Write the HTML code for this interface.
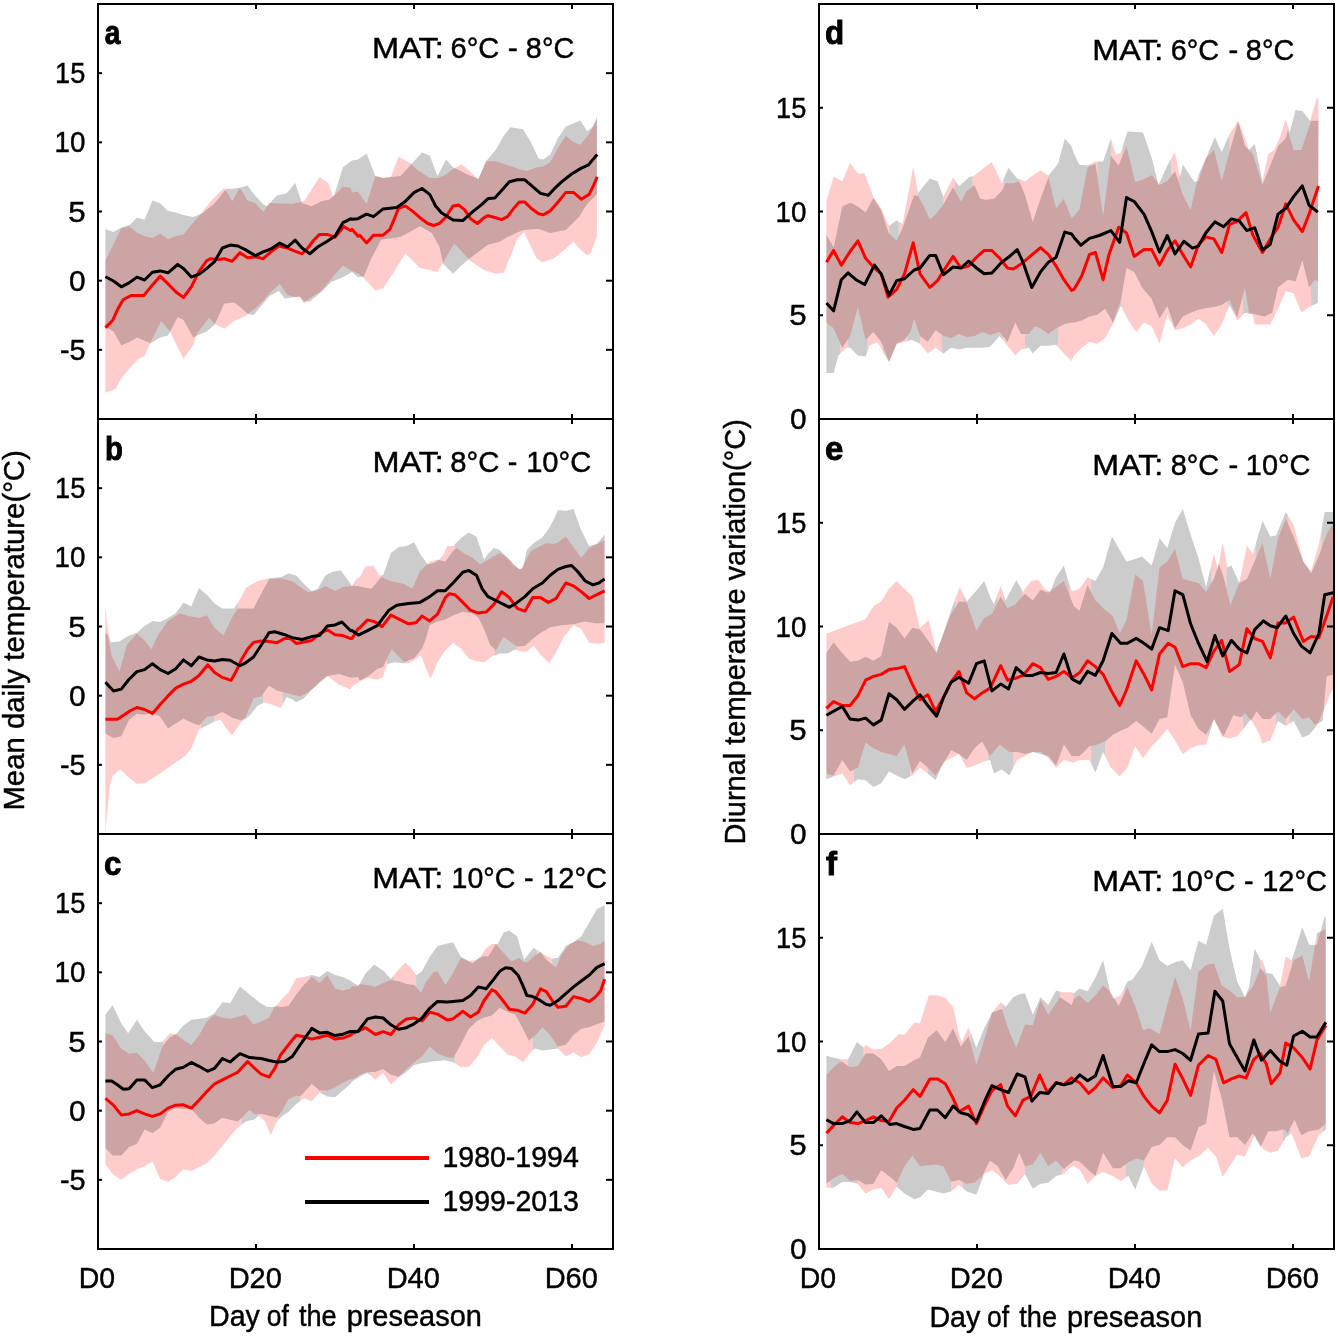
<!DOCTYPE html>
<html><head><meta charset="utf-8"><style>
html,body{margin:0;padding:0;background:#fff;}
body{width:1338px;height:1336px;overflow:hidden;position:relative;font-family:"Liberation Sans",sans-serif;}
svg{position:absolute;left:0;top:0;will-change:transform;}
</style></head><body>
<svg width="1338" height="1336" viewBox="0 0 1338 1336" font-family="Liberation Sans, sans-serif">
<defs>
<clipPath id="ca"><rect x="98" y="4" width="515" height="415"/></clipPath>
<clipPath id="cb"><rect x="98" y="419" width="515" height="415"/></clipPath>
<clipPath id="cc"><rect x="98" y="834" width="515" height="415"/></clipPath>
<clipPath id="cd"><rect x="819" y="4" width="515" height="415"/></clipPath>
<clipPath id="ce"><rect x="819" y="419" width="515" height="415"/></clipPath>
<clipPath id="cf"><rect x="819" y="834" width="515" height="415"/></clipPath>
</defs>
<g clip-path="url(#ca)">
<polygon points="105.4,260.6 113.5,244.1 121.3,228.5 129.1,226.6 136.9,232.4 144.6,236.3 152.4,237.9 160.2,233.4 168,239.2 175.7,236.3 183.5,234.4 191.3,224.7 199,215.9 210.7,201.3 224.3,187.7 232.1,201.3 239.9,187.7 247.6,200.4 255.4,203.3 263.2,212 269,203.3 292.3,203.7 304,201.3 319.5,177 328.3,182.9 333.1,196.5 342.9,186.8 350.6,187.7 352,192.4 358,191.6 366.6,204.1 375.3,175.9 383.1,177.9 390.9,176.9 398.6,156.5 410.3,163.3 416.1,169.1 429.7,177.9 437.5,177.9 445.3,174.9 453,169.1 461.8,164.2 468.6,170.1 478.3,179.8 486.1,161.3 495.8,161.3 507.5,165.2 519.1,169.1 526.9,171 534.7,168.1 543.4,166.2 550.2,162.3 558,147.7 565.8,136.1 573.5,141.9 580.3,144.8 589.1,134.1 596.9,119.6 596.9,236 591,252.5 587.1,255.4 579.4,248.6 573.5,241.8 565.8,248.6 554.1,258.3 542.4,262.2 536.6,258.3 530.8,246.6 524,232.1 517.2,238.9 511.3,254.4 503.6,272.9 495.8,273.8 484.1,270 470.5,261.2 462.8,252.5 454,243.7 443.3,262.2 437.5,271.9 420,268 405.4,253.4 392.8,273.8 383.1,288.4 375.3,290.4 363.7,277.7 358,273.3 352,270.9 342.9,265.5 331.2,279.1 321.5,290.8 307.9,299.6 304,303.4 300.1,297.6 292.3,296.6 287.5,294.7 279.7,284 269,293.7 263.2,300.5 255.4,308.3 247.6,314.1 245.7,316.1 234,320.9 224.3,328.7 214.6,323.8 208.8,318 197.1,333.6 193.2,345.2 183.5,358.8 175.7,343.3 169.9,331.6 161.2,320.9 150.5,342.3 144.6,355.9 138.8,358.8 131,366.6 121.3,378.3 115.5,388.9 105.4,392.8" fill="#ff0000" fill-opacity="0.2"/>
<polygon points="105.4,228.9 113.5,232 121.3,227.6 130.1,224.7 136.9,217.5 144.6,219.8 152.4,200.4 160.2,203.3 168,211 175.7,212.6 183.5,214.9 193.2,216.9 202.9,213 214.6,203.3 226.3,188.7 232.1,188.7 239.9,187.7 247.6,185.4 253.5,193.6 263.2,204.2 267.1,206.2 276.8,195.5 286.5,193.6 295.2,182.9 302,203.3 311.8,206.2 321.5,201.3 329.2,199.4 334.1,195.5 342.9,167.3 350.6,161.5 352,160.4 358,159.6 366.6,153.6 375.3,175.9 383.1,177.9 390.9,176.9 400.6,175.9 410.3,165.2 422,152.6 429.7,155.5 437.5,175.9 446.2,159.4 453,167.2 460.8,171 468.6,174.9 478.3,178.8 486.1,161.3 495.8,149.7 503.6,136.1 510.4,127.3 523,129.3 530.8,141.9 538.6,158.4 543.4,159.4 550.2,154.5 558,138 565.8,126.4 580.3,120.5 587.1,131.2 593,126.4 596.9,116.6 596.9,194.2 587.1,203.9 579.4,216.5 565.8,230.1 550.2,233 538.6,229.1 523,230.1 507.5,236.9 499.7,241.8 488,244.7 468.6,259.3 460.8,266.1 453,273.8 443.3,264.1 439.4,246.6 431.7,233 420,226.2 400.6,236.9 381.1,239.8 371.4,258.3 363.7,276.8 358,277.2 352,271.9 342.9,277.2 331.2,282.1 321.5,291.8 309.8,301.5 304,301.5 300.1,296.6 292.3,297.6 284.6,298.6 278.7,290.8 269,296.6 259.3,308.3 253.5,315.1 247.6,314.1 241.8,308.3 234,302.5 224.3,303.4 214.6,324.8 206.8,331.6 197.1,335.5 193.2,337.4 183.5,320 177.7,317 168,335.5 160.2,337.4 150.5,343.3 144.6,340.4 136.9,337.4 129.1,342.3 121.3,345.2 113.5,331.6 105.4,326.8" fill="#000000" fill-opacity="0.2"/>
<polyline points="105.4,327.6 112.6,320.5 117.4,309.8 123.3,299.5 131,295.6 143.7,295.6 152.4,284.9 160.2,276.1 168,283.9 175.7,291.7 183.5,297.5 191.3,286.8 199,271.3 206.8,260.6 210.7,258.7 218.5,259.6 224.3,258.7 232.1,261.2 239.9,252.8 247.6,257.7 255.4,256.7 263.2,258.7 270.9,251.9 278.7,246 287.5,248 294.3,250.9 302,253.8 307.9,248 313.7,240.2 319.5,234.4 327.3,234.4 335.1,237.3 343.8,226.6 350.6,230.5 352,229.3 358,236.3 359.8,235.2 366.6,242.9 373.4,235.2 383.1,235.2 389.9,229.3 394.8,217.7 398.6,208 405.4,206 412.2,210.9 420,217.7 427.8,223.5 433.6,225.5 439.4,223.5 445.3,217.7 453,206 458.9,205.1 464.7,209.9 470.5,218.7 477.3,223.5 484.1,217.7 488,215.7 495.8,217.7 501.6,219.6 507.5,216.7 513.3,208.9 519.1,202.1 524.9,202.1 530.8,208 538.6,213.8 543.4,214.8 550.2,210.9 558,202.1 565.8,192.4 573.5,192.4 581.3,199.2 589.1,194.4 593.9,184.7 597.2,176.9" fill="none" stroke="#ff0000" stroke-width="3" stroke-linejoin="round"/>
<polyline points="105.4,276.7 113.5,281 121.3,286.8 129.1,282.9 136.9,277.1 144.6,280 152.4,272.3 160.2,270.9 168,272.8 177.7,264.5 183.5,268.4 191.3,277.1 199,274.2 206.8,268.4 214.6,261.6 222.4,248 230.1,245.1 237.9,246 245.7,249.9 255.4,255.7 263.2,251.9 270.9,248.9 279.7,243.1 287.5,247 295.2,240.2 302,248 309.8,253.8 317.6,247 327.3,241.2 335.1,235.9 342.9,222.7 350.6,218.8 352,219.2 357.9,218.7 366.6,214.2 373.4,216.7 383.1,208.9 396.7,207.6 404.5,202.1 414.2,192.4 422,188.5 429.7,194.4 435.6,206 441.4,212.8 453,220 462.8,220.6 472.5,211.9 482.2,204.1 488,198.6 494.8,197.9 501.6,190.5 509.4,181.7 517.2,179.8 524.9,179.8 532.7,186.6 540.5,193.4 548.3,195.3 554.1,188.9 561.9,181.7 571.6,174 581.3,168.1 588.1,165.2 593,159.4 597.2,154.5" fill="none" stroke="#000000" stroke-width="3" stroke-linejoin="round"/>
</g>
<g clip-path="url(#cb)">
<polygon points="105.4,605.5 107.7,628.8 108.6,633.1 108.7,640.3 110.6,650.7 111.6,656 119.4,671.6 127.1,644.4 136.9,633.7 144.6,640.5 151.4,649.2 152.4,647.1 158.2,634.7 160.2,631.9 168,621 175.7,615.9 179.6,613.3 183.5,614.4 189.3,616.2 191.3,616.6 199,618.1 206.8,615.2 214.6,627.9 222.4,634.8 223.3,635.6 232.1,617.2 234,614.2 237.9,608.5 237.9,602.6 238,602.5 239.9,599.7 245.7,588 253.5,583.5 257.3,581.2 263.2,579.8 269,578.3 269,579.3 269.1,579.3 280.7,578.3 288.4,580.2 292.3,581.2 296.2,584.1 300.1,587 304,589.5 307.9,591.9 311.8,591.4 315.6,590.9 317.6,590 325.4,586.1 333.1,590 335.1,590.9 340.9,588 342.2,587.4 342.3,587.3 342.9,587 348.7,586.3 350.6,586.1 352,585.9 354.5,586 354.5,582.2 354.6,582.1 356.5,578.3 358,578.3 359.8,577.2 361.7,573.6 365.6,566.5 370,565.9 370.1,565.9 371.4,565.7 373.4,565.5 379.2,575.2 381.1,575.2 381.1,577.2 381.2,577.2 383.1,577.9 390.9,581 398.6,582.7 404.5,584 406.4,585.2 412.2,588.8 414.2,584.5 420,571.3 427.8,563.6 429.7,561.6 431.7,561.1 435.5,560.2 435.6,562.2 437.5,561.6 443.3,554.8 445.3,550.4 447.2,546.1 453,546.1 454.9,544.2 455,549.4 456.9,548 460.8,550.9 464.7,553.8 468.6,555.8 472.5,557.7 476.4,561.1 480.3,564.5 484.1,562.1 488,559.7 493.9,556.3 499.7,552.9 507.5,557.7 513.3,565.5 519.1,568.4 521.1,569.4 523,565.7 526.9,558.3 530.8,550.9 534.7,549 538.6,547 542.4,545.1 546.3,543.2 550.2,543.6 554.1,544.1 558,542.2 565.8,536.4 573.5,547 581.3,557.7 589.1,548 596.9,544.1 604.6,540.2 604.6,642.8 596.9,643.7 594.9,643.5 589.1,642.8 585.2,636 581.3,629.1 573.5,625.3 563.8,636.9 561.9,640.8 556,652.5 550.2,661.6 549.2,663.2 540.5,654.4 533.7,645.7 532.7,646.5 526.9,651.5 524.9,651.5 521.1,651.5 517.2,650.2 516.3,649.9 516.2,646 515.2,645.3 511.3,642.8 507.5,639.8 503.6,636.9 499.7,643.7 495.8,650.5 494.9,649.6 494.8,655.3 491.9,656.4 490,657.8 484.1,662.2 478.3,661.5 476.4,661.2 472.5,659.8 468.6,658.3 462.8,651 460.8,648.6 453,642.8 445.3,650.5 437.5,662.2 430.7,678.7 429.7,676.6 425.8,668 422,657.9 421,655.4 414.2,660.2 408.4,663.2 404.5,663.2 404.5,663.2 404.4,662.1 402.5,660.2 398.6,656.4 394.8,652.5 391.8,649.6 388,656.4 387,658.4 387,658.5 386.9,664.3 383.1,676.8 377.3,679.7 370.1,678.2 370,678.2 367.5,677.7 359.8,681.6 358,682.8 352,686.5 350.6,689.6 348.7,688.7 342.3,686.1 342.2,686.1 339,684.7 327.3,676 319.5,681.8 315.6,685.7 311.8,689.5 311.8,689.6 311.7,689.6 307.9,692.5 304,694.4 300.1,696.4 296.2,695.4 292.3,694.4 286.5,693 284.6,692.5 282.7,692 282.6,704.5 280.7,708 276.8,706.6 272.9,705.1 269,703.6 265.1,702.2 263.2,703.1 263.1,693.8 261.2,696.4 257.3,697.3 253.5,698.3 249.6,707.5 245.7,716.8 243.8,718.7 243.7,720.2 241.8,721.6 232.1,735.2 226.3,728.4 222.4,722.6 220.4,719.7 214.6,721.6 214.6,721.6 214.5,715.8 206.8,716.8 201,723.3 200.9,728.4 199,729.4 191.3,748.8 184.5,756.6 183.5,757.2 175.7,762.4 168,767.9 166,769.2 160.2,773.3 156.3,776 152.4,778.5 145.6,782.8 144.6,782.9 136.9,783.8 129.1,778 121.3,770.2 120.3,769.2 113.5,775.2 112.6,776 109.7,785.7 105.4,832.4" fill="#ff0000" fill-opacity="0.2"/>
<polygon points="105.4,632.7 107.7,634.7 108.6,639.7 108.7,633.6 110.6,642.4 111.6,642.3 119.4,641.5 127.1,636.6 136.9,632.7 144.6,625.9 151.4,621.7 152.4,621 158.2,621.8 160.2,622 168,618.1 175.7,613.3 179.6,607.9 183.5,602.6 189.3,605.5 191.3,606.5 199,588 206.8,594.8 214.6,603.6 222.4,608.4 223.3,608.4 232.1,608.4 234,608.4 237.9,602.7 237.9,608.4 238,608.4 239.9,608.4 245.7,608.4 253.5,608.4 257.3,601 263.2,590 269,579.4 269,578.3 269.1,578.3 280.7,577.3 288.4,573.4 292.3,574.4 296.2,575.4 300.1,579.8 304,584.1 307.9,587.5 311.8,590.9 315.6,589.6 317.6,589 325.4,575.4 333.1,571.5 335.1,571.3 340.9,570.5 342.2,572.3 342.3,572.5 342.9,573.2 348.7,581.2 350.6,584 352,585.9 354.5,582.3 354.5,586 354.6,586 356.5,586 358,586.1 359.8,586.5 361.7,586.9 365.6,587.7 370,588.5 370.1,588.6 371.4,588.8 373.4,586.5 379.2,579.5 381.1,577.2 381.1,575.2 381.2,575.2 383.1,575.2 390.9,552.9 398.6,547 404.5,546.3 406.4,546.1 412.2,543.2 414.2,542.2 420,553.8 427.8,564.5 429.7,564 431.7,563.6 435.5,562.3 435.6,560.1 437.5,559.7 443.3,561.1 445.3,561.6 447.2,558.9 453,550.9 454.9,549.5 455,544.1 456.9,542.2 460.8,538.3 464.7,535.4 468.6,532.5 472.5,534.4 476.4,536.4 480.3,548 484.1,559.7 488,553.8 493.9,548 499.7,550 507.5,557.7 513.3,563.6 519.1,569.4 521.1,568.4 523,567.4 526.9,550 530.8,546.1 534.7,542.2 538.6,539.8 542.4,537.3 546.3,532 550.2,526.6 554.1,518.4 558,510.1 565.8,511.1 573.5,509.1 581.3,530.5 589.1,546.1 596.9,544.1 604.6,534.4 604.6,623.3 596.9,623.3 594.9,623.3 589.1,622.2 585.2,621.4 581.3,622.3 573.5,624.3 563.8,625.1 561.9,625.3 556,626.2 550.2,627.2 549.2,627.8 540.5,633 533.7,638.1 532.7,638.9 526.9,644 524.9,645.7 521.1,646.2 517.2,646.6 516.3,646 516.2,649.9 515.2,649.6 511.3,651.5 507.5,653.4 503.6,653.4 499.7,653.4 495.8,654.9 494.9,655.2 494.8,649.5 491.9,646.6 490,644.7 484.1,629.1 478.3,617.5 476.4,616.2 472.5,613.6 468.6,612.8 462.8,611.7 460.8,612.4 453,615.5 445.3,619.4 437.5,621.4 430.7,624.8 429.7,625.3 425.8,638.9 422,648.6 421,649.8 414.2,658.3 408.4,660.6 404.5,662.2 404.5,662.2 404.4,663.2 402.5,663.2 398.6,662.7 394.8,662.2 391.8,662.9 388,663.9 387,664.1 387,664.1 386.9,658.6 383.1,667 377.3,669 370.1,674.7 370,674.8 367.5,676.8 359.8,680.6 358,676.9 352,677.7 350.6,677.4 348.7,676.9 342.3,675 342.2,675 339,674 327.3,676 319.5,683.1 315.6,686.6 311.8,689.5 311.8,689.6 311.7,689.6 307.9,693.9 304,698.3 300.1,700.2 296.2,702.2 292.3,699.3 286.5,697.3 284.6,700.9 282.7,704.4 282.6,692 280.7,691.5 276.8,690.5 272.9,688.1 269,685.7 265.1,691 263.2,693.6 263.1,703.2 261.2,704.1 257.3,706.1 253.5,710.9 249.6,715.8 245.7,718.7 243.8,720.1 243.7,718.8 241.8,720.6 232.1,717.7 226.3,714.2 222.4,711.9 220.4,712.9 214.6,715.8 214.6,715.8 214.5,721.6 206.8,725.5 201,728.4 200.9,723.4 199,725.5 191.3,722.6 184.5,719.2 183.5,718.7 175.7,723.6 168,728.4 166,725.5 160.2,716.8 156.3,714.8 152.4,712.9 145.6,714.6 144.6,714.8 136.9,713.8 129.1,719.7 121.3,736.2 120.3,736.4 113.5,738.1 112.6,737.6 109.7,735.8 105.4,733.3" fill="#000000" fill-opacity="0.2"/>
<polyline points="105.4,719.2 117.4,719.2 129.1,711.4 136.9,707.5 144.6,709.5 152.4,713.4 160.2,704.6 168,695.9 175.7,688.1 183.5,684.2 191.3,681.3 199,675.5 207.8,664.8 214.6,672.5 222.4,677.4 231.1,680.3 236,671.6 241.8,658.9 247.6,649.2 253.5,642.4 261.2,640.9 269,641.5 276.8,642.8 284.6,638.5 290.4,638.5 296.2,643.4 304,642 311.8,640.5 319.5,633.7 327.3,629.8 335.1,634.7 342.9,635.6 350.6,638.5 352,638.4 358,628.8 359.8,627.7 367.5,619.9 375.3,621.9 382.1,626.7 390.9,615.1 400.6,619.9 408.4,623.8 416.1,622.8 422,616 429.7,620.9 437.5,614.1 445.3,597.6 449.2,593.7 455,594.7 462.8,602.4 470.5,610.2 478.3,613.1 486.1,612.1 493.9,604.4 501.6,591.7 509.4,597.6 517.2,608.3 524.9,611.2 532.7,597.6 540.5,597.6 548.3,602.4 556,598.5 565.8,583 573.5,585.9 581.3,591.7 589.1,598.5 596.9,594.7 604.6,590.8" fill="none" stroke="#ff0000" stroke-width="3" stroke-linejoin="round"/>
<polyline points="105.4,682.3 113.5,691 121.3,689.1 129.1,679.3 136.9,671.6 144.6,669.6 152.4,663.8 160.2,669.6 168,673.5 175.7,668.7 183.5,659.9 191.3,665.7 199,657 206.8,659.9 214.6,660.9 222.4,659.5 230.1,660.3 239.9,665.7 245.7,662.8 253.5,657 261.2,645.3 269,632.7 274.8,631.7 284.6,634.7 292.3,637.6 302,639.5 311.8,636.6 319.5,635.6 327.3,625.9 335.1,624.9 341.9,622 350.6,630.8 352,630.6 358.4,635.1 367.5,630.6 377.3,625.7 388.9,610.2 396.7,605.3 408.4,603.4 420,602.4 429.7,596.6 437.5,590.8 445.3,590.8 453,583 462.8,572.3 468.6,570.4 476.4,575.2 482.2,588.8 488,596.6 495.8,600.5 503.6,604.4 509.4,607.3 517.2,602.4 524.9,596.6 532.7,588.8 542.4,583 550.2,575.2 558,569.4 565.8,566.5 571.6,565.5 577.4,571.3 585.2,581 593,584.9 598.8,583 604.6,579.1" fill="none" stroke="#000000" stroke-width="3" stroke-linejoin="round"/>
</g>
<g clip-path="url(#cc)">
<polygon points="105.4,1033.3 112.6,1035.2 121.3,1048.8 128.1,1053.1 129.1,1053.7 136.9,1052.7 144.6,1060.5 153.4,1073.1 154.4,1070.2 156.3,1064.4 162.1,1046.9 163,1045.7 163.1,1040.9 169.9,1033.3 175.7,1034.2 175.7,1034.2 175.8,1034.3 183.5,1040.1 191.3,1044.9 199,1035.2 206.8,1021.6 214.6,1014.8 222.4,1017.7 230.1,1018.7 237.9,1016.8 239.9,1016.3 245.7,1014.8 249.6,1019.7 253.5,1024.5 259.3,1022.3 261.2,1021.6 267.1,1018.7 269,1017.7 274.8,1006.1 275.8,1006.2 275.9,1005.9 280.7,1000.2 288.4,992.5 296.2,977.9 304,976.9 309.8,975.5 309.9,978.8 311.8,976.9 319.5,982.8 327.3,975 335.1,988.6 342.2,990.4 342.3,990.4 342.9,990.5 350.6,988.6 352,985.9 358,986.6 359.8,984 365.6,984.7 367.5,984.9 370,985.6 370.1,985.6 374.3,986.6 375.3,986.9 383.1,983 390.9,980.1 393.7,980.4 393.8,975.4 398.6,969.4 405.4,962.6 406.4,963.6 412.2,969.4 414.2,972.3 416.1,975.1 416.1,987.2 416.2,987.2 421,992.7 422,990.6 425.8,982 429.7,977.2 433.6,972.3 437.5,971.3 445.3,984.9 453,973.3 460.8,957.7 466.7,960.6 468.6,961.6 472.5,960.6 476.4,959.7 480.2,957.8 480.3,956.8 480.3,956.7 484.1,950.9 486.1,948 488,946.7 491.9,944.1 495.8,944.1 495.8,944.1 495.9,944.2 497.7,946.3 503.6,952.9 509.4,959.4 511.3,961.6 517.2,958.7 519.1,957.7 523,961.6 524,961.9 526.9,962.6 528.8,960.9 533.7,956.6 534.7,955.8 536.6,954.5 536.7,949.7 540.5,951.9 546.3,955.8 552.1,958.7 552.2,964.3 552.2,964.4 556,967.4 558,962.9 561.9,953.8 565.8,949 569.6,944.1 573.5,942.2 577.4,940.2 581.3,941.2 585.2,942.2 589.1,944.1 593,946.1 596.9,945.1 600.7,944.1 604.6,940.2 604.6,1025.3 596.9,1042.8 589.1,1054.4 581.3,1057.3 573.5,1052.5 565.8,1056.4 558,1048.6 558,1048.6 557.9,1046.6 550.2,1035 542.4,1027.2 534.7,1036 532.8,1037.5 532.7,1050.6 528.8,1054.4 523,1062.2 515.2,1056.4 507.5,1054.4 499.7,1046.6 491.9,1037.9 484.1,1044.7 476.4,1058.3 468.6,1067 460.8,1067 455,1063.4 454.9,1055 453,1058.3 445.3,1056.4 437.5,1053.4 433.6,1050 429.7,1046.6 422,1056.4 414.2,1062.2 406.4,1069 402.6,1072.8 402.5,1074.9 398.6,1077.7 390.9,1084.5 383.1,1072.9 375.3,1079.7 370.1,1075.1 370,1071.9 367.5,1071.9 363.7,1073.3 363.6,1073.4 359.8,1074.8 358,1076 352,1079.7 350.6,1078.9 342.9,1082.8 342.3,1083.1 342.2,1083.1 335.1,1087.6 327.3,1090.5 321.5,1090.5 321.4,1093.4 319.5,1092.5 311.8,1101.2 304,1098.3 300.1,1101.2 300.1,1101.2 300,1096.3 296.2,1095.4 288.4,1099.3 282.6,1110 278.8,1115.1 278.7,1119.7 276.8,1121.6 270.9,1135.2 269,1130.7 265.1,1121.6 261.2,1117.7 259.3,1115.8 257.4,1117 257.3,1114.5 255.4,1114.8 253.5,1113.2 249.6,1110 245.7,1113.8 241.9,1117.7 241.8,1124.6 237.9,1127.4 230.1,1136.2 222.4,1145.9 214.6,1155.6 206.8,1163.4 199,1167.3 191.3,1171.2 183.5,1169.2 175.7,1177 168,1181.9 160.2,1178.9 152.4,1161.5 144.6,1166.3 136.9,1169.2 129.1,1174.1 121.3,1179.9 112.6,1174.1 105.4,1164.4" fill="#ff0000" fill-opacity="0.2"/>
<polygon points="105.4,1014.8 112.6,1005.1 121.3,1023.6 128.1,1033.3 129.1,1031.8 136.9,1019.7 144.6,1031.3 153.4,1041 154.4,1042 156.3,1042 162.1,1042 163,1041 163.1,1045.6 169.9,1037.2 175.7,1034.3 175.7,1034.2 175.8,1034.2 183.5,1025.5 191.3,1019.7 199,1018.7 206.8,1017.7 214.6,1012.9 222.4,1002.2 230.1,1003.2 237.9,989.9 239.9,986.6 245.7,991.3 249.6,994.4 253.5,997.5 259.3,1002.2 261.2,1003.4 267.1,1007 269,1007 274.8,1007 275.8,1006 275.9,1006.2 280.7,1007 288.4,1006.1 296.2,994.4 304,984.7 309.8,978.9 309.9,975.5 311.8,975 319.5,976.9 327.3,971.1 335.1,975 342.2,976.8 342.3,976.8 342.9,976.9 350.6,980.8 352,982 358,985.7 359.8,984 365.6,973.3 367.5,971.3 370,968.9 370.1,968.8 374.3,964.5 375.3,965.2 383.1,970.4 390.9,979.1 393.7,975.5 393.8,980.4 398.6,981 405.4,983.6 406.4,984 412.2,984.7 414.2,984.9 416.1,987.1 416.1,975.2 416.2,975.2 421,972 422,971.3 425.8,964 429.7,956.8 433.6,951.4 437.5,946.1 445.3,944.1 453,942.2 460.8,956.8 466.7,959.7 468.6,961 472.5,963.6 476.4,960.2 480.2,956.8 480.3,957.7 480.3,957.7 484.1,955.8 486.1,956.3 488,956.8 491.9,950.4 495.8,944.2 495.8,944.1 495.9,944.1 497.7,944.1 503.6,932.5 509.4,930.5 511.3,932 517.2,936.4 519.1,943 523,956.3 524,959.7 526.9,956.2 528.8,953.8 533.7,948 534.7,948.6 536.6,949.7 536.7,954.5 540.5,951.9 546.3,959.7 552.1,964.3 552.2,958.7 552.2,958.7 556,958.1 558,957.7 561.9,951.9 565.8,946.1 569.6,944.1 573.5,942.2 577.4,939.3 581.3,936.4 585.2,929.6 589.1,922.8 593,916 596.9,909.1 600.7,907.2 604.6,905.3 604.6,1021.4 596.9,1024.3 589.1,1027.2 581.3,1029.1 573.5,1035 565.8,1044.7 558,1046.6 558,1046.6 557.9,1048.6 550.2,1049.6 542.4,1050.5 534.7,1048.6 532.8,1050.5 532.7,1037.6 528.8,1040.8 523,1029.1 515.2,1014.6 507.5,1011.7 499.7,1007.8 491.9,1015.5 484.1,1017.5 476.4,1021.4 468.6,1029.1 460.8,1044.7 455,1054.8 454.9,1063.4 453,1062.2 445.3,1060.2 437.5,1060.9 433.6,1061.2 429.7,1061.9 422,1063.2 414.2,1065.1 406.4,1071.9 402.6,1074.8 402.5,1072.9 398.6,1076.8 390.9,1074.8 383.1,1069 375.3,1071.9 370.1,1071.9 370,1075 367.5,1072.9 363.7,1074.8 363.6,1074.8 359.8,1076.8 358,1077.9 352,1081.6 350.6,1083.7 342.9,1090.5 342.3,1091 342.2,1091.1 335.1,1097.3 327.3,1096.4 321.5,1093.5 321.4,1090.5 319.5,1090.5 311.8,1083.7 304,1092.5 300.1,1096.3 300.1,1096.4 300,1101.3 296.2,1104.1 288.4,1111.9 282.6,1115.8 278.8,1119.6 278.7,1115.2 276.8,1117.7 270.9,1116.3 269,1115.8 265.1,1114.8 261.2,1113.8 259.3,1114.2 257.4,1114.5 257.3,1117.1 255.4,1118.4 253.5,1119.7 249.6,1120.6 245.7,1121.6 241.9,1124.5 241.8,1117.8 237.9,1121.6 230.1,1119.7 222.4,1117.7 214.6,1123.6 206.8,1124.5 199,1117.7 191.3,1109 183.5,1109 175.7,1108 168,1111.9 160.2,1127.4 152.4,1133.3 144.6,1129.4 136.9,1144 129.1,1146.9 121.3,1155.6 112.6,1155.6 105.4,1147.9" fill="#000000" fill-opacity="0.2"/>
<polyline points="105.4,1098.4 113.5,1105.2 121.3,1114.9 129.1,1113.9 136.9,1110.6 144.6,1113.9 152.4,1116.4 160.2,1113.9 168,1108.1 175.7,1105.2 183.5,1104.8 191.3,1108.1 199,1100.3 206.8,1091.6 214.6,1083.8 222.4,1079.9 230.1,1076 237.9,1072.1 247.6,1061.5 253.5,1067.3 261.2,1074.1 269,1077 274.8,1068.3 280.7,1054.7 288.4,1044.9 296.2,1035.2 304,1036.8 311.8,1039.1 319.5,1037.2 327.3,1035.2 335.1,1039.1 342.9,1038.1 350.6,1035.2 352,1033.5 357.9,1031.5 365.6,1027.7 375.3,1034.5 383.1,1031.6 390.9,1034.5 398.6,1024.8 406.4,1018.9 414.2,1018 422,1020.9 429.7,1012.1 437.5,1014.1 447.2,1019.9 453,1018.9 462.8,1011.2 470.5,1017 478.3,1012.1 484.1,1000.5 491.9,989.8 495.8,991.7 503.6,1001.5 509.4,1009.2 517.2,1010.2 524.9,1013.1 532.7,1004.4 540.5,988.8 546.3,991.7 552.2,1000.5 558,1007.3 565.8,1006.3 573.5,996.6 581.3,998.5 589.1,1001.5 594.9,997.6 600.7,990.8 604.6,979.1" fill="none" stroke="#ff0000" stroke-width="3" stroke-linejoin="round"/>
<polyline points="105.4,1080.9 111.6,1080.9 117.4,1084.8 123.3,1089.2 129.1,1088.7 136.9,1079.9 144.6,1079.9 152.4,1087.7 160.2,1084.8 168,1076 175.7,1069.2 183.5,1067.3 191.3,1062.4 199,1066.3 207.8,1071.2 214.6,1068.3 222.4,1058.5 230.1,1062 239.9,1053.7 249.6,1057.6 261.2,1058.5 269,1060.5 276.8,1062 284.6,1061.5 292.3,1056.6 300.1,1044.9 311.8,1028.4 319.5,1032.9 327.3,1032.3 335.1,1035.6 342.9,1034.2 350.6,1031.3 352,1031.6 357.9,1031.5 367.5,1018.9 375.3,1017 383.1,1018 390.9,1024.8 398.6,1029.2 406.4,1027.7 414.2,1023.8 422,1018 429.7,1008.3 437.5,1001.5 447.2,1002 453,1001.5 462.8,1000.5 470.5,995.6 478.3,986.9 486.1,988.8 493.9,979.1 499.7,971.3 505.5,967.8 511.3,968.4 518.1,975.2 523,985.9 526.9,995.6 532.7,996.6 538.6,999.5 546.3,1004.4 550.2,1005.3 558,1000.5 565.8,993.7 573.5,986.9 581.3,981 589.1,975.2 596.9,967.4 604.6,963.6" fill="none" stroke="#000000" stroke-width="3" stroke-linejoin="round"/>
</g>
<g clip-path="url(#cd)">
<polygon points="826.4,200.8 833.6,176.5 842.3,181.3 850.1,162.9 857.9,173.6 864.7,173.6 865.6,176.2 873.4,196.9 881.2,208.5 888.9,225.9 889,233.8 889,233.8 896.7,240.6 898.6,236.5 898.7,221.5 902.6,224.1 913.2,166.8 914.2,172 918.1,192.7 918.1,195.9 918.2,196 923.9,206.6 929.8,219.2 935.6,214.4 937.5,211.9 943.3,204.7 943.4,196.9 943.4,196.8 953.1,177.4 955,180.3 955.1,190.9 958.9,198.1 960.9,201.7 966.7,191 968.6,189.6 972.5,186.7 972.6,176.1 974.5,175.5 980.3,170.8 984.2,167.7 986.1,166.3 991.9,161.9 993.9,166.2 1001.7,183.3 1003.6,178.9 1003.7,187.1 1005.6,183.3 1008.5,183.3 1013.3,183.3 1017.2,182 1019.1,181.3 1019.2,179.1 1019.2,179.2 1025,181.3 1032.8,175.5 1040.5,170.6 1048.3,175.5 1048.3,177.4 1048.4,177.6 1056.1,208.5 1058,206.1 1063.9,198.8 1064.2,199.8 1064.3,200 1064.8,201.3 1071.6,218.3 1074,216 1079.4,209.4 1085.6,177.7 1085.7,177.1 1087.6,167.4 1091,165.7 1091.1,163.8 1095.4,161.6 1097.3,161.6 1097.4,177 1103.1,216 1110.9,156.2 1110.9,138.3 1111,138.5 1115.8,154.8 1118.7,153.6 1120.6,152.9 1122.5,146.9 1122.6,155.7 1126.5,146.1 1127.4,150.1 1135.2,182 1143,179.4 1144,179.1 1151.7,175.2 1158.5,183.7 1159.5,184.9 1167.3,181 1171.1,176.3 1171.2,158.6 1175,151.9 1178.9,171.9 1179,183.1 1179.9,185.9 1182.8,194.7 1190.6,210.2 1194.5,192.7 1198.3,175.4 1198.4,181 1198.4,180.9 1206.1,157.7 1208,153.3 1208.1,155.7 1213.9,150 1214.9,153.8 1221.7,181 1229.4,152.1 1229.5,134.4 1229.5,134.3 1238.2,120.8 1245,138.3 1248.8,149.8 1248.9,150 1248.9,150 1252.8,153.8 1254.7,160.1 1262.4,184.8 1262.5,181 1262.5,180.8 1268.3,153.8 1270.3,152.5 1274.2,150 1278,141.5 1280,137.3 1285.8,118.9 1287.7,125.5 1287.8,130.5 1287.8,130.7 1289.7,137 1293.6,150 1295.5,150 1301.4,150 1302.3,147 1310.1,123.9 1310.1,120.8 1310.2,120.6 1311.1,117.5 1316.9,97.5 1318.5,99.4 1317.9,281.6 1315,279.7 1311.1,284.8 1311,306 1309.1,306.9 1302.3,312 1301.4,312.7 1295.5,298.1 1293.6,293.3 1287.8,291.8 1285.8,291.3 1278,308.8 1272.2,320.5 1270.3,324.4 1264.4,324.4 1256.7,324.4 1254.7,324.4 1252.8,314.7 1249.9,313.9 1249.8,312.9 1248.9,312.7 1245,287.4 1243.1,294.8 1243,314.7 1237.2,320.5 1233.4,312.8 1233.3,308.7 1229.5,300.1 1227.6,301.3 1227.5,309.9 1221.7,324.4 1213.9,336 1206.1,324.4 1198.4,318.5 1190.6,324.4 1182.8,328.3 1175,330.2 1167.3,314.7 1159.5,343.8 1151.7,326.3 1144,322.4 1142,324.9 1136.2,332.1 1134.2,329.2 1128.4,320.5 1126.5,316.8 1121.7,307.8 1121.6,295.8 1120.6,301 1112.9,322.3 1112.9,322.4 1112.8,324.5 1105.1,338 1097.3,343.8 1091.1,342.2 1091,342.2 1089.5,341.9 1081.8,347.7 1074,355.5 1071.6,361.3 1064.3,354 1064.2,353.9 1063.9,353.5 1058.1,347 1058,327.3 1056.1,328.3 1048.3,334.1 1040.5,328.3 1034.7,326.3 1032.8,328.9 1028.9,334.1 1025,334.1 1024.9,348.7 1021.1,349.6 1015.3,355.5 1007.5,345.7 1002.7,339.7 1002.6,335.7 999.7,332.1 990,335.1 982.2,332.1 974.5,336 966.7,337 958.9,334.1 951.1,338 943.4,336 941.5,334.6 941.4,352 935.6,347.7 927.8,353.5 920.1,343.9 920,343.8 920,335.9 914.2,318.5 912.3,325.3 910.3,332.1 907.5,336 907.4,341.1 904.5,341.9 896.8,343.8 896.7,343.8 896.7,343.9 889,361.3 883.2,346.8 883.1,346.7 883.1,351.5 881.2,348.3 877.3,341.9 873.4,343.8 869.5,345.7 867.6,351 867.5,338 865.6,339.9 857.9,306.9 850.1,336 848.2,338.9 848.1,347.7 846.2,347.7 842.3,351.6 840.4,353.5 840.3,343.3 838.4,339.1 833.6,328.3 826.4,322.4" fill="#ff0000" fill-opacity="0.2"/>
<polygon points="826.4,234.8 833.6,247.4 842.3,206.6 850.1,202.7 857.9,206.6 864.7,211.7 865.6,212.4 873.4,197.9 881.2,210.5 888.9,233.7 889,226 889,226 896.7,220.2 898.6,221.5 898.7,236.3 902.6,228 913.2,197.7 914.2,194.9 918.1,195.9 918.1,193 918.2,192.9 923.9,185.7 929.8,178.4 935.6,180.6 937.5,181.3 943.3,196.7 943.4,204.7 943.4,204.6 953.1,187.2 955,190.7 955.1,180.4 958.9,186.2 960.9,184.4 966.7,179.2 968.6,177.4 972.5,176.2 972.6,186.6 974.5,185.2 980.3,198.8 984.2,199.5 986.1,199.8 991.9,199.1 993.9,198.8 1001.7,191 1003.6,187.3 1003.7,178.7 1005.6,174.4 1008.5,167.7 1013.3,173.7 1017.2,178.4 1019.1,179.1 1019.2,181.3 1019.2,181.4 1025,194.9 1032.8,222.1 1040.5,198.8 1048.3,177.6 1048.3,175.5 1048.4,175.4 1056.1,166.2 1058,163.8 1063.9,142.2 1064.2,140.8 1064.3,140.4 1064.8,138.6 1071.6,146.4 1074,153.8 1079.4,164.7 1085.6,165.3 1085.7,165.3 1087.6,165.5 1091,163.8 1091.1,165.7 1095.4,163.6 1097.3,176.3 1097.4,161.6 1103.1,161.6 1110.9,138.4 1110.9,155.8 1111,155.8 1115.8,161.9 1118.7,165.5 1120.6,160.6 1122.5,155.9 1122.6,146.6 1126.5,134.5 1127.4,131.5 1135.2,132 1143,132.5 1144,135.3 1151.7,157.7 1158.5,184.9 1159.5,182.8 1167.3,165.5 1171.1,158.8 1171.2,176.1 1175,171.3 1178.9,182.8 1179,172.4 1179.9,177.2 1182.8,164.5 1190.6,176.2 1194.5,182 1198.3,181.1 1198.4,175.2 1198.4,175.1 1206.1,157.7 1208,155.8 1208.1,153.1 1213.9,139.6 1214.9,137.3 1221.7,151.9 1229.4,134.5 1229.5,151.9 1229.5,151.7 1238.2,121.8 1245,146.1 1248.8,149.9 1248.9,150 1248.9,149.9 1252.8,146.1 1254.7,144.1 1262.4,180.8 1262.5,184.9 1262.5,184.8 1268.3,170.4 1270.3,165.5 1274.2,155.8 1278,146.1 1280,144.1 1285.8,138.3 1287.7,130.7 1287.8,125.7 1287.8,125.8 1289.7,132.5 1293.6,117.6 1295.5,110.1 1301.4,111 1302.3,111.1 1310.1,120.7 1310.1,123.7 1310.2,123.6 1311.1,120.8 1316.9,120.8 1318.5,120.8 1317.9,303 1315,304.3 1311.1,306 1311,284.9 1309.1,287.4 1302.3,260.2 1301.4,263.3 1295.5,281.6 1293.6,281.1 1287.8,279.7 1285.8,281.2 1278,287.4 1272.2,312.7 1270.3,313.7 1264.4,316.6 1256.7,314.7 1254.7,314.2 1252.8,313.7 1249.9,313 1249.8,313.9 1248.9,313.7 1245,312.7 1243.1,314.6 1243,295.2 1237.2,317.6 1233.4,308.9 1233.3,312.6 1229.5,304.9 1227.6,309.7 1227.5,301.3 1221.7,304.9 1213.9,306.9 1206.1,307.9 1198.4,309.8 1190.6,312.7 1182.8,316.6 1175,328.3 1167.3,305.9 1159.5,318.5 1151.7,299.1 1144,289.8 1142,287.4 1136.2,275.8 1134.2,271.9 1128.4,269 1126.5,268 1121.7,295.3 1121.6,307.6 1120.6,305.9 1112.9,324.2 1112.9,324.4 1112.8,322.3 1105.1,308.8 1097.3,314.7 1091.1,316.2 1091,316.2 1089.5,316.6 1081.8,320.5 1074,322.4 1071.6,322.4 1064.3,324.2 1064.2,324.3 1063.9,324.4 1058.1,327.3 1058,346.9 1056.1,344.8 1048.3,345.7 1040.5,345.7 1034.7,351.6 1032.8,353.5 1028.9,347.7 1025,348.6 1024.9,334.1 1021.1,334.1 1015.3,322.4 1007.5,341.9 1002.7,335.8 1002.6,339.6 999.7,336 990,346.7 982.2,347.7 974.5,347.7 966.7,347.7 958.9,349.6 951.1,347.7 943.4,353.5 941.5,352.1 941.4,334.5 935.6,330.2 927.8,341.9 920.1,336.1 920,336 920,343.8 914.2,340.9 912.3,339.9 910.3,340.4 907.5,341.1 907.4,336.1 904.5,339.9 896.8,343.8 896.7,343.8 896.7,343.9 889,362.3 883.2,351.7 883.1,351.6 883.1,346.6 881.2,341.9 877.3,337 873.4,332.1 869.5,336 867.6,337.9 867.5,351.2 865.6,356.4 857.9,355.5 850.1,347.7 848.2,347.7 848.1,339 846.2,341.9 842.3,347.7 840.4,343.5 840.3,353.6 838.4,355.5 833.6,372.9 826.4,372.9" fill="#000000" fill-opacity="0.2"/>
<polyline points="826.4,262.2 833.6,250.5 841.3,265.1 850.1,251.5 857.9,240.8 865.6,258.3 873.4,267 881.2,273.8 888,297.2 896.7,289.4 904.5,273.8 913.2,242.8 920,273.8 929.8,287.4 937.5,280.6 945.3,268 953.1,256.4 960.9,268 968.6,266.1 976.4,257.3 984.2,250.5 991.9,250.5 999.7,258.3 1007.5,268 1013.3,269 1021.1,264.1 1028.9,257.3 1040.5,247.6 1048.3,254.4 1056.1,266.1 1063.9,279.7 1071.6,290.4 1074,289.4 1081.8,275.8 1089.5,254.4 1095.4,252.5 1103.1,279.7 1109,254.4 1118.7,227.2 1126.5,233 1134.2,256.4 1144,249.6 1151.7,249.6 1159.5,265.1 1167.3,250.5 1175,240.8 1182.8,254.4 1190.6,267 1198.4,244.7 1206.1,236.9 1213.9,238.9 1221.7,252.5 1229.5,224.3 1237.2,221.4 1246,212.6 1252.8,235 1262.5,252.5 1270.3,238.9 1278,227.2 1285.8,203.9 1293.6,219.8 1302.3,231.5 1309.1,214 1318.5,186" fill="none" stroke="#ff0000" stroke-width="3" stroke-linejoin="round"/>
<polyline points="826.4,303 833.6,310.8 841.3,279.7 848.1,272.9 855.9,279.7 864.7,284.5 874.4,265.1 881.2,273.8 889,295.2 896.7,280.6 904.5,278.7 914.2,270 920,268 929.8,255.4 935.6,255.4 943.4,274.8 953.1,267 960.9,268 968.6,261.2 976.4,268 984.2,273.8 991.9,272.9 1001.7,262.2 1008.5,257.3 1017.2,249.6 1023,262.2 1031.8,287.4 1040.5,271.9 1048.3,262.2 1056.1,257.3 1064.8,232.1 1071.6,234 1074,237.4 1080.8,245.2 1089.5,238.4 1099.3,235.5 1110.9,230.6 1119.7,242.3 1126.5,197.6 1134.2,201.5 1144,214.1 1151.7,231.6 1159.5,252 1167.3,235.5 1175,253.9 1183.8,241.3 1192.5,248.1 1198.4,246.1 1206.1,232.5 1214.9,221.9 1223.6,226.7 1231.4,218.9 1239.2,220.9 1246.9,230.6 1254.7,227.7 1262.5,250 1270.3,244.2 1278,214.1 1285.8,208.3 1293.6,196.6 1302.3,185.9 1309.1,205.3 1317.9,212.1" fill="none" stroke="#000000" stroke-width="3" stroke-linejoin="round"/>
</g>
<g clip-path="url(#ce)">
<polygon points="826.4,633.5 833.6,630.9 834.5,630.6 842.3,627.7 850.1,624.8 857.9,621.9 865.6,618.9 873.4,606.3 881.2,601.5 889,588.8 896.7,581 904.5,588.8 912.3,596.6 920,627.7 928.8,619.9 936.5,651.8 936.6,652.9 936.6,652.8 943.4,633.5 951.1,614.1 953.1,610.9 955,607.9 955.1,599.2 958.9,589.4 959.9,586.9 963.7,595.1 963.8,602.1 966.7,602.4 974.5,625 976.4,630.6 984.2,618 990,615.1 991.9,614.1 993.9,610.2 997.7,602.5 997.8,593.7 1000.7,585.9 1003.6,594.5 1003.7,601.7 1005.6,604.9 1007.5,608.3 1015.3,604.4 1016.2,603.3 1022,596.9 1022.1,590.2 1023,591.7 1025,589.1 1030.8,581 1032.8,580.8 1038.6,580.1 1040.5,583 1044.4,588.8 1048.3,590.8 1049.2,591.2 1049.3,591.9 1050.2,591.3 1056.1,586.9 1063.9,581 1064.2,582 1064.3,582.3 1067.7,590.8 1069.6,595.5 1069.7,585.1 1071.6,590.8 1074,590.8 1079.4,588.8 1087.6,577.2 1089.5,578.1 1089.6,578.2 1091,578.9 1091.1,591.9 1095.4,600.5 1103.1,608.3 1111.9,615.3 1112.9,616 1119.7,633.5 1126.5,619.9 1132.3,589.5 1135.2,574.2 1142,580.2 1143,581 1151.7,635.5 1159.5,567.4 1167.3,561.6 1175,549 1182.8,579.1 1190.6,581 1198.4,583 1206.1,591.7 1210.9,583.9 1211,566 1213.9,553.8 1217.8,569.4 1218.8,563.9 1222.7,542.2 1223.6,547.2 1226.5,562.1 1226.6,589.4 1227.5,593.3 1230.4,605.3 1231.4,602.9 1239.2,583 1240.1,582.5 1240.2,578.1 1246.9,546.1 1252.8,553.8 1255.6,544.1 1255.7,558.7 1262.5,543.2 1270.3,579.1 1276.1,548.5 1278,538.3 1285.8,518.9 1287.7,523.1 1287.8,515.3 1293.6,524.7 1303.3,561.6 1311.1,571.3 1318.9,544.1 1321.7,528.4 1321.8,547.6 1324.7,539.8 1326.6,534.4 1333.2,522.8 1333.2,688 1326.6,703 1324.7,707.4 1322.7,712.1 1316.9,725.9 1315,728 1315,728.1 1314.9,724.9 1309.1,717.2 1302.3,719.1 1293.6,709.4 1289.8,714.2 1289.7,723.5 1285.9,725.9 1285.8,725.9 1285.8,719.1 1278,711.3 1276.1,713.2 1276,726 1270.3,740.5 1262.5,743.4 1258.6,732.7 1256.7,729.3 1250.9,719.2 1250.8,719.1 1250.8,721 1245,713.3 1243.1,715.2 1243,729.4 1241.1,731.7 1237.2,736.6 1233.3,737.6 1229.5,738.5 1223.6,737.1 1221.7,736.6 1214,719.2 1213.9,719.1 1213.9,719.2 1208.1,730.7 1208,738.2 1206.1,744.4 1198.4,745.3 1190.6,748.3 1182.8,754.1 1175,740.5 1167.3,728.8 1159.5,738.5 1151.7,746.3 1144,756.7 1143,758 1136.2,747.8 1135.2,746.3 1127.4,767.7 1120.6,775.3 1119.7,776.4 1112.9,769.6 1110.9,767.7 1105.1,756.1 1105.1,756 1105,741.5 1103.1,742.2 1097.3,744.4 1095.4,744.9 1091.1,745.9 1091,763.1 1089.5,759.9 1083.8,759.9 1083.7,759.9 1081.8,759.9 1079,759.9 1074,762.8 1071.6,761.9 1064.3,760 1064.2,760 1063.9,759.9 1056.1,767.7 1048.3,758 1040.5,752.1 1032.8,752.1 1025,756 1017.2,759.9 1013.4,767.6 1013.3,752.1 1009.4,752.1 1001.7,745.9 999.7,744.4 993.9,751.4 990,756 988.1,752.5 988,760.4 982.2,761.9 974.5,765.7 966.7,767.7 958.9,754.1 951.1,758 943.4,761.9 940.5,768.7 940.4,768.2 935.6,775.5 927.9,767.7 927.8,767.7 927.8,773.5 920,767.7 912.3,775.5 910.4,776.4 910.3,766 904.5,744.4 896.7,756 889,754.1 881.2,752.1 873.4,748.3 865.6,742.4 857.9,767.7 854,769.6 853.9,782.3 850.1,785.2 842.3,773.5 833.6,776.4 833.6,776.4 833.5,775.4 826.4,773.5" fill="#ff0000" fill-opacity="0.2"/>
<polygon points="826.4,652.9 833.6,642.3 834.5,643.4 842.3,652.9 850.1,661.7 857.9,660.7 865.6,656.8 873.4,660.7 881.2,655.9 889,621.9 896.7,627.7 904.5,638.4 912.3,627.7 920,629.6 928.8,641.3 936.5,652.9 936.6,652 936.6,651.8 943.4,633.5 951.1,610.2 953.1,604.4 955,599.5 955.1,607.7 958.9,601.5 959.9,601.6 963.7,602.1 963.8,595.3 966.7,601.5 974.5,592.7 976.4,590.4 984.2,581 990,596.6 991.9,600.5 993.9,604.4 997.7,594 997.8,602.3 1000.7,596.6 1003.6,601.5 1003.7,594.8 1005.6,600.5 1007.5,596.8 1015.3,581.9 1016.2,580.1 1022,590 1022.1,596.8 1023,595.8 1025,593.7 1030.8,598.8 1032.8,600.5 1038.6,592.5 1040.5,589.8 1044.4,591.3 1048.3,592.7 1049.2,592 1049.3,591.3 1050.2,591.7 1056.1,577.2 1063.9,565.5 1064.2,566.8 1064.3,567.2 1067.7,579.1 1069.6,584.8 1069.7,595.7 1071.6,600.5 1074,606.3 1079.4,610.7 1087.6,584.9 1089.5,588.7 1089.6,588.9 1091,591.7 1091.1,578.9 1095.4,581 1103.1,567.4 1111.9,536.4 1112.9,538.1 1119.7,550 1126.5,561.6 1132.3,559.7 1135.2,558.8 1142,556.8 1143,557.6 1151.7,565.5 1159.5,538.3 1167.3,548 1175,522.8 1182.8,509.1 1190.6,534.4 1198.4,557.7 1206.1,586.9 1210.9,566.4 1211,583.8 1213.9,579.1 1217.8,566.7 1218.8,563.6 1222.7,574.4 1223.6,577.2 1226.5,589 1226.6,562.7 1227.5,567.4 1230.4,566 1231.4,565.5 1239.2,583 1240.1,578.6 1240.2,582.5 1246.9,579.1 1252.8,565.5 1255.6,558.9 1255.7,543.8 1262.5,520.8 1270.3,536.4 1276.1,535.4 1278,530.7 1285.8,512.1 1287.7,515.1 1287.8,523.3 1293.6,536.4 1303.3,561.6 1311.1,573.3 1318.9,555.8 1321.7,547.9 1321.8,527.8 1324.7,512.1 1326.6,512.1 1333.2,512.1 1333.2,674.4 1326.6,676.4 1324.7,698.7 1322.7,721 1316.9,724 1315,724.9 1315,724.9 1314.9,728.1 1309.1,734.7 1302.3,737.6 1293.6,721 1289.8,723.4 1289.7,714.3 1285.9,719 1285.8,719.1 1285.8,725.9 1278,721 1276.1,725.8 1276,713.3 1270.3,719.1 1262.5,719.1 1258.6,713.9 1256.7,711.3 1250.9,721 1250.8,721 1250.8,719.2 1245,726.9 1243.1,729.2 1243,715.3 1241.1,717.2 1237.2,716.2 1233.3,715.2 1229.5,723.8 1223.6,736.6 1221.7,733.1 1214,719.2 1213.9,719.1 1213.9,719.3 1208.1,737.9 1208,730.9 1206.1,734.7 1198.4,728.8 1190.6,715.2 1182.8,682.2 1175,664.7 1167.3,717.2 1159.5,719.1 1151.7,733.7 1144,726.9 1143,726.2 1136.2,721 1135.2,721.8 1127.4,727.9 1120.6,730.8 1119.7,731.3 1112.9,734.7 1110.9,736.4 1105.1,741.4 1105.1,741.5 1105,755.9 1103.1,752.1 1097.3,767.4 1095.4,772.5 1091.1,763.3 1091,745.9 1089.5,746.3 1083.8,752.1 1083.7,752.2 1081.8,754.1 1079,756 1074,756 1071.6,756 1064.3,745.1 1064.2,744.9 1063.9,744.4 1056.1,765.7 1048.3,756 1040.5,754.1 1032.8,752.1 1025,754.1 1017.2,752.1 1013.4,752.1 1013.3,767.8 1009.4,775.5 1001.7,769.6 999.7,770.6 993.9,773.5 990,759.9 988.1,760.4 988,752.3 982.2,741.5 974.5,748.3 966.7,759.9 958.9,754.1 951.1,750.2 943.4,763.8 940.5,768.1 940.4,768.9 935.6,780.3 927.9,773.6 927.8,773.5 927.8,767.6 920,760.9 912.3,773.5 910.4,766.4 910.3,776.5 904.5,779.3 896.7,775.5 889,771.6 881.2,783.2 873.4,787.1 865.6,780.3 857.9,779.3 854,782.2 853.9,769.7 850.1,771.6 842.3,759.9 833.6,775.4 833.6,775.5 833.5,776.5 826.4,779.3" fill="#000000" fill-opacity="0.2"/>
<polyline points="826.4,708.4 833.6,701.6 842.3,705.5 850.1,705.5 857.9,695.8 865.6,680.2 873.4,676.4 881.2,674.4 889,669.6 896.7,668.6 904.5,666.6 912.3,684.1 920,699.7 927.8,694.8 935.6,711.3 943.4,697.7 951.1,682.2 958.9,671.5 966.7,692.9 974.5,698.7 982.2,692.9 990,688 993.9,680.2 1000.7,665.7 1007.5,680.2 1015.3,678.3 1023,675.4 1032.8,663.7 1040.5,667.6 1048.3,679.3 1056.1,676.4 1063.9,671.5 1071.6,677.3 1074,676.4 1079.8,672.5 1087.6,660.8 1095.4,666.6 1103.1,674.4 1110.9,690 1119.7,705.5 1126.5,690 1136.2,660.8 1144,674.4 1151.7,690 1159.5,654 1168.2,643.3 1175,647.2 1182.8,666.6 1190.6,663.7 1198.4,663.7 1206.1,667.6 1213.9,651.1 1221.7,640.4 1229.5,671.5 1239.2,664.7 1246.9,628.7 1254.7,638.5 1262.5,641.4 1270.3,657.9 1278,622.9 1285.8,622.9 1293.6,617.1 1303.3,641.4 1311.1,636.5 1318.9,637.5 1326.6,616.1 1333.2,596.7" fill="none" stroke="#ff0000" stroke-width="3" stroke-linejoin="round"/>
<polyline points="826.4,715.2 833.6,711.3 842.3,706.5 850.1,719.1 857.9,720.1 865.6,718.1 873.4,724.9 881.2,720.1 889,693.8 896.7,699.7 904.5,709.4 912.3,701.6 920,694.8 927.8,705.5 936.6,716.2 943.4,697.7 951.1,682.2 958.9,677.3 968.6,683.2 976.4,663.7 984.2,660.8 991.9,690.9 1000.7,684.1 1008.5,689 1016.2,667.6 1025,675.4 1032.8,675.4 1040.5,672.5 1048.3,673.4 1056.1,672.5 1063.9,654 1071.6,678.3 1074,680.2 1079.8,683.1 1087.6,671.4 1095.4,675.3 1103.1,660.7 1111.9,633.5 1120.6,643.2 1127.4,643.2 1136.2,638.4 1144,643.2 1151.7,649.1 1159.5,627.7 1168.2,630.6 1175,590.8 1182.8,594.7 1190.6,623.8 1198.4,643.2 1207.1,661.7 1214.9,635.5 1222.7,655.9 1231.4,640.3 1239.2,649.1 1246.9,652.9 1254.7,629.6 1263.5,620.9 1270.3,625.7 1277.1,627.7 1285.8,616 1293.6,633.5 1301.4,646.1 1310.1,652.9 1318.9,633.5 1324.7,594.7 1333.2,592.7" fill="none" stroke="#000000" stroke-width="3" stroke-linejoin="round"/>
</g>
<g clip-path="url(#cf)">
<polygon points="826.4,1074.9 832.6,1068.2 833.6,1067.1 840.3,1062.1 840.4,1059.3 840.4,1059.3 841.3,1059.3 848.1,1059.3 848.1,1065.8 848.2,1065.9 850.1,1067.1 856.9,1066.3 857.9,1066.1 863.6,1056.8 863.7,1047.7 863.7,1047.6 865.6,1044.8 873.4,1049.6 881.2,1048.7 889,1043.8 896.7,1036 898.7,1034.1 904.5,1035.1 912.3,1025 914.2,1022.4 920,1023.4 927.8,998.4 928.8,995.2 936.6,995.2 937.5,995.2 945.3,998.1 953.1,1006.9 958.9,1034.1 960.9,1039.3 961.8,1041.9 968.6,1027.3 970.5,1032.3 970.6,1043.5 976.4,1065.2 984.2,1039.9 990,1019.7 990.1,1016.5 991.9,1012.7 1000.7,1002 1001.7,1003 1002.6,1003.9 1002.7,1011.9 1005.6,1020.5 1009.4,1032.1 1013.3,1041 1016.2,1047.7 1019.2,1039.9 1025,1024.4 1032.8,1025.3 1040.5,1000.1 1048.3,1014.7 1056.1,1003 1059.9,997.2 1060,991.7 1060,991.7 1061.9,992.3 1064.2,992.3 1064.3,992.3 1071.6,992.3 1073.5,993.1 1073.6,1000 1074,999.1 1079.4,995.2 1087.6,1003 1091,999.6 1091.1,999.5 1095.4,995.2 1103.1,985.5 1110,991.3 1110.9,992.9 1111,994.1 1112.9,999.1 1118.7,996.2 1120.6,995.2 1124.5,987.5 1124.6,993.5 1127.4,987.4 1132.3,999.3 1136.2,1008.8 1142,1027.1 1143,1030.2 1149.8,1028.3 1151.7,1029.4 1159.5,1034.1 1167.3,1004.9 1175,976.8 1182.8,999.1 1190.6,1030.2 1198.4,971.9 1206.1,965.1 1213.9,963.2 1221.7,985.5 1222.7,986.1 1229.5,990.4 1237.2,997.2 1245,997.2 1248.9,991.8 1252.8,986.5 1254.7,981.9 1260.5,968.1 1260.6,960.2 1260.6,960.2 1262.5,960.2 1263.4,963.2 1263.5,972 1266.4,975.8 1270.3,1012.7 1272.2,1007.7 1279.9,987.6 1280,985.5 1280,985.3 1285.8,956.4 1291.6,960.2 1291.6,966.6 1291.7,966.4 1293.6,960.2 1302.3,955.4 1309.1,981.6 1316.9,933.3 1316.9,944.7 1317,944.5 1320.7,930.8 1320.8,931.3 1324.7,929.7 1325.8,929.1 1325.8,1123.6 1322.8,1126.1 1322.7,1132 1318.9,1135.2 1309.1,1156.6 1301.4,1158.5 1294.6,1140.9 1291.6,1133.3 1289.8,1134.5 1289.7,1129.5 1287.8,1133.3 1285.8,1131.3 1283.9,1129.4 1283,1129.6 1282.9,1142.4 1278,1150.8 1276.1,1151.3 1270.3,1152.7 1268.3,1151.7 1262.5,1148.8 1260.6,1145.4 1254.7,1135.2 1252.8,1139.5 1245,1156.6 1237.2,1154.7 1229.5,1166.3 1222.7,1177 1221.7,1174.1 1215.9,1156.6 1213.9,1154.4 1208.1,1147.9 1206.1,1149.6 1198.4,1156.6 1190.6,1160.5 1182.8,1167.3 1175,1158.5 1167.3,1190.6 1159.5,1190.6 1151.7,1183.8 1144,1166.4 1144,1166.3 1143.9,1160.5 1136.2,1158.5 1135.2,1159 1128.4,1162.4 1125.5,1164.6 1125.4,1177.9 1120.6,1180.9 1112.9,1176 1103.1,1172.1 1095.4,1176 1091.1,1180.3 1091,1180.4 1087.6,1183.8 1079.4,1169.2 1074,1166.3 1071.6,1166.3 1064.3,1173.6 1064.2,1173.7 1063.9,1174.1 1062,1174.6 1061.9,1167 1056.1,1160.5 1048.3,1166.3 1040.5,1152.7 1032.8,1164.4 1025,1166.3 1025,1166.3 1024.9,1174.1 1019.2,1181.4 1017.2,1183.8 1013.3,1184.2 1008.5,1184.8 1005.6,1181.9 999.7,1176 997.8,1174.6 991.9,1170.2 990,1171.2 984.2,1174.1 983.3,1176.5 983.2,1174.2 982.2,1176 976.4,1181.1 974.5,1182.8 966.7,1183.8 962.9,1181.9 962.8,1188.1 958.9,1184.8 951.2,1191.5 951.1,1191.6 951.1,1181.8 943.4,1166.3 935.6,1164.4 927.8,1165.3 920,1166.3 914.2,1158.3 912.3,1155.6 904.5,1166.3 896.8,1182.7 896.7,1182.8 896.7,1186.8 889,1199.3 881.2,1187.7 873.4,1189.6 865.6,1193.5 857.9,1183.9 857.9,1183.8 857.8,1179.9 850.1,1180.9 842.3,1174.1 833.6,1178 830.7,1180.3 830.6,1187.7 826.4,1187.7" fill="#ff0000" fill-opacity="0.2"/>
<polygon points="826.4,1055.5 832.6,1057.4 833.6,1057.6 840.3,1059.3 840.4,1062 840.4,1062 841.3,1061.3 848.1,1065.8 848.1,1059.3 848.2,1059.2 850.1,1055.5 856.9,1041.9 857.9,1042.7 863.6,1047.6 863.7,1056.7 863.7,1056.6 865.6,1053.5 873.4,1053.5 881.2,1059.3 889,1071 896.7,1066.1 898.7,1066.1 904.5,1066.1 912.3,1061.3 914.2,1060.3 920,1057.4 927.8,1038 928.8,1037.1 936.6,1030.2 937.5,1031.5 945.3,1041.9 953.1,1028.3 958.9,1042.1 960.9,1046.7 961.8,1045.4 968.6,1036 970.5,1043.1 970.6,1032.5 976.4,1047.7 984.2,1028.3 990,1016.7 990.1,1019.3 991.9,1012.7 1000.7,1009.2 1001.7,1008.8 1002.6,1011.6 1002.7,1004 1005.6,1006.9 1009.4,1002 1013.3,997.2 1016.2,995.7 1019.2,994.2 1025,993.3 1032.8,1014.7 1040.5,997.2 1048.3,1004.9 1056.1,990.4 1059.9,991.6 1060,997.2 1060,997.2 1061.9,998.5 1064.2,1000 1064.3,1000.1 1071.6,1004.9 1073.5,1000.3 1073.6,993.1 1074,993.3 1079.4,988.4 1087.6,991.3 1091,985.4 1091.1,985.2 1095.4,977.7 1103.1,960.2 1110,991.3 1110.9,993.8 1111,993 1112.9,996.2 1118.7,1005.9 1120.6,1001.8 1124.5,993.7 1124.6,987.3 1127.4,981.6 1132.3,979.7 1136.2,974.2 1142,966.1 1143,963.6 1149.8,946.6 1151.7,941.8 1159.5,960.2 1167.3,966.1 1175,962.2 1182.8,960.2 1190.6,970 1198.4,940.8 1206.1,944.7 1213.9,915.5 1221.7,909.5 1222.7,908.7 1229.5,948.6 1237.2,981.6 1245,997.2 1248.9,987.4 1252.8,961.5 1254.7,948.6 1260.5,960.1 1260.6,968 1260.6,968.1 1262.5,970.6 1263.4,971.8 1263.5,963.6 1266.4,972.9 1270.3,973.5 1272.2,973.8 1279.9,985.4 1280,987.4 1280,987.4 1285.8,985.5 1291.6,966.7 1291.6,960.2 1291.7,960.1 1293.6,954.2 1302.3,927.2 1309.1,944.7 1316.9,944.7 1316.9,933 1317,933 1320.7,931.4 1320.8,930.4 1324.7,916.5 1325.8,916.5 1325.8,1129.4 1322.8,1131.9 1322.7,1126.2 1318.9,1129.4 1309.1,1131.3 1301.4,1135.2 1294.6,1119.7 1291.6,1125.5 1289.8,1129.3 1289.7,1134.6 1287.8,1135.9 1285.8,1137.2 1283.9,1140.6 1283,1142.2 1282.9,1129.6 1278,1130.8 1276.1,1131.3 1270.3,1131.3 1268.3,1131.3 1262.5,1143 1260.6,1146.9 1254.7,1136.7 1252.8,1133.3 1245,1144.9 1237.2,1137.2 1229.5,1137.2 1222.7,1103.2 1221.7,1098.3 1215.9,1077.9 1213.9,1071.1 1208.1,1110.4 1206.1,1123.6 1198.4,1127.4 1190.6,1150.8 1182.8,1144.9 1175,1137.2 1167.3,1137.2 1159.5,1144.9 1151.7,1146.9 1144,1160.4 1144,1160.5 1143.9,1166.4 1136.2,1187 1135.2,1189.6 1128.4,1176 1125.5,1177.8 1125.4,1164.6 1120.6,1168.3 1112.9,1168.3 1103.1,1152.7 1095.4,1176 1091.1,1172.3 1091,1172.2 1087.6,1169.2 1079.4,1161.5 1074,1160.5 1071.6,1162.4 1064.3,1168.8 1064.2,1168.9 1063.9,1169.2 1062,1167.1 1061.9,1174.6 1056.1,1176 1048.3,1182.8 1040.5,1183.8 1032.8,1188.7 1025,1174.2 1025,1174.1 1024.9,1166.2 1019.2,1152.7 1017.2,1157.9 1013.3,1168.3 1008.5,1175.5 1005.6,1179.9 999.7,1169.7 997.8,1166.3 991.9,1161.9 990,1160.5 984.2,1172.1 983.3,1174 983.2,1176.8 982.2,1179.2 976.4,1194.5 974.5,1193.9 966.7,1191.6 962.9,1188.2 962.8,1181.8 958.9,1179.9 951.2,1181.8 951.1,1181.9 951.1,1191.6 943.4,1193.5 935.6,1191.6 927.8,1189.6 920,1197.4 914.2,1199.3 912.3,1198.2 904.5,1193.5 896.8,1186.8 896.7,1186.7 896.7,1182.8 889,1176 881.2,1170.2 873.4,1183.8 865.6,1184.8 857.9,1179.9 857.9,1179.9 857.8,1183.8 850.1,1181.9 842.3,1181.9 833.6,1187.7 830.7,1187.7 830.6,1180.4 826.4,1183.8" fill="#000000" fill-opacity="0.2"/>
<polyline points="826.4,1133.3 833.6,1125.5 842.3,1116.8 850.1,1122.6 857.9,1123.6 865.6,1120.6 873.4,1116.8 881.2,1120.6 889,1121.6 896.7,1108 904.5,1100.2 913.2,1089.6 920,1096.4 929.8,1078.9 937.5,1078.9 945.3,1083.7 953.1,1098.3 958.9,1111.9 968.6,1106.1 976.4,1123.6 984.2,1106.1 991.9,1090.5 1000.7,1084.7 1007.5,1106.1 1015.3,1115.8 1023,1100.2 1030.8,1096.4 1039.6,1075 1047.3,1092.5 1056.1,1082.8 1063.9,1084.7 1071.6,1077.9 1074,1079.8 1079.8,1082.8 1088.6,1093.4 1095.4,1087.6 1103.1,1077.9 1112.9,1087.6 1120.6,1085.7 1127.4,1075 1136.2,1082.8 1144,1096.4 1151.7,1106.1 1159.5,1112.9 1167.3,1100.2 1175,1064.3 1182.8,1078.9 1190.6,1095.4 1198.4,1065.3 1208.1,1055.5 1215.9,1059.4 1223.6,1082.8 1231.4,1078.9 1239.2,1076 1246,1077.9 1253.8,1059.4 1260.6,1053.6 1266.4,1064.3 1271.2,1083.7 1280,1073 1285.8,1042.9 1293.6,1047.8 1302.3,1057.5 1310.1,1069.1 1316.9,1040 1325.8,1025.4" fill="none" stroke="#ff0000" stroke-width="3" stroke-linejoin="round"/>
<polyline points="826.4,1119.7 833.6,1123.6 842.3,1123.6 850.1,1120.6 856.9,1111.9 865.6,1122.6 873.4,1122.6 881.2,1115.8 889.9,1124.5 896.7,1123.6 904.5,1126.5 913.2,1129.4 920,1128.4 929.8,1110 937.5,1110 945.3,1117.7 953.1,1106.1 960.9,1112.9 968.6,1114.8 976.4,1121.6 984.2,1102.2 991.9,1085.7 1000.7,1089.6 1008.5,1092.5 1017.2,1074 1025,1076.9 1031.8,1101.2 1039.6,1092.5 1048.3,1093.4 1056.1,1082.8 1063.9,1084.7 1071.6,1082.8 1074,1080.7 1079.8,1074.9 1087.6,1080.7 1095.4,1075.9 1103.1,1055.5 1112.9,1086.6 1120.6,1086.6 1128.4,1080.7 1136.2,1082.7 1144,1063.2 1151.7,1044.8 1159.5,1051.6 1167.3,1051.6 1175,1049.6 1182.8,1053.5 1190.6,1060.3 1198.4,1034.1 1208.1,1033.1 1214.9,991.3 1222.7,1001 1229.5,1043.8 1237.2,1057.4 1245,1071 1253.8,1039.9 1261.5,1060.3 1270.3,1050.6 1280,1061.3 1286.8,1065.2 1293.6,1036 1302.3,1031.2 1310.1,1037 1316.9,1037 1325.8,1022.4" fill="none" stroke="#000000" stroke-width="3" stroke-linejoin="round"/>
</g>
<rect x="98" y="348.83" width="4" height="2" fill="#000"/>
<rect x="606" y="348.83" width="7" height="2" fill="#000"/>
<rect x="98" y="279.67" width="4" height="2" fill="#000"/>
<rect x="606" y="279.67" width="7" height="2" fill="#000"/>
<rect x="98" y="210.50" width="4" height="2" fill="#000"/>
<rect x="606" y="210.50" width="7" height="2" fill="#000"/>
<rect x="98" y="141.33" width="4" height="2" fill="#000"/>
<rect x="606" y="141.33" width="7" height="2" fill="#000"/>
<rect x="98" y="72.17" width="4" height="2" fill="#000"/>
<rect x="606" y="72.17" width="7" height="2" fill="#000"/>
<rect x="255.00" y="4" width="2" height="5" fill="#000"/>
<rect x="255.00" y="414" width="2" height="5" fill="#000"/>
<rect x="413.00" y="4" width="2" height="5" fill="#000"/>
<rect x="413.00" y="414" width="2" height="5" fill="#000"/>
<rect x="571.00" y="4" width="2" height="5" fill="#000"/>
<rect x="571.00" y="414" width="2" height="5" fill="#000"/>
<rect x="98" y="4" width="515" height="415" fill="none" stroke="#000" stroke-width="2"/>
<rect x="98" y="763.83" width="4" height="2" fill="#000"/>
<rect x="606" y="763.83" width="7" height="2" fill="#000"/>
<rect x="98" y="694.67" width="4" height="2" fill="#000"/>
<rect x="606" y="694.67" width="7" height="2" fill="#000"/>
<rect x="98" y="625.50" width="4" height="2" fill="#000"/>
<rect x="606" y="625.50" width="7" height="2" fill="#000"/>
<rect x="98" y="556.33" width="4" height="2" fill="#000"/>
<rect x="606" y="556.33" width="7" height="2" fill="#000"/>
<rect x="98" y="487.17" width="4" height="2" fill="#000"/>
<rect x="606" y="487.17" width="7" height="2" fill="#000"/>
<rect x="255.00" y="419" width="2" height="5" fill="#000"/>
<rect x="255.00" y="829" width="2" height="5" fill="#000"/>
<rect x="413.00" y="419" width="2" height="5" fill="#000"/>
<rect x="413.00" y="829" width="2" height="5" fill="#000"/>
<rect x="571.00" y="419" width="2" height="5" fill="#000"/>
<rect x="571.00" y="829" width="2" height="5" fill="#000"/>
<rect x="98" y="419" width="515" height="415" fill="none" stroke="#000" stroke-width="2"/>
<rect x="98" y="1178.83" width="4" height="2" fill="#000"/>
<rect x="606" y="1178.83" width="7" height="2" fill="#000"/>
<rect x="98" y="1109.67" width="4" height="2" fill="#000"/>
<rect x="606" y="1109.67" width="7" height="2" fill="#000"/>
<rect x="98" y="1040.50" width="4" height="2" fill="#000"/>
<rect x="606" y="1040.50" width="7" height="2" fill="#000"/>
<rect x="98" y="971.33" width="4" height="2" fill="#000"/>
<rect x="606" y="971.33" width="7" height="2" fill="#000"/>
<rect x="98" y="902.17" width="4" height="2" fill="#000"/>
<rect x="606" y="902.17" width="7" height="2" fill="#000"/>
<rect x="255.00" y="834" width="2" height="5" fill="#000"/>
<rect x="255.00" y="1244" width="2" height="5" fill="#000"/>
<rect x="413.00" y="834" width="2" height="5" fill="#000"/>
<rect x="413.00" y="1244" width="2" height="5" fill="#000"/>
<rect x="571.00" y="834" width="2" height="5" fill="#000"/>
<rect x="571.00" y="1244" width="2" height="5" fill="#000"/>
<rect x="98" y="834" width="515" height="415" fill="none" stroke="#000" stroke-width="2"/>
<rect x="819" y="418.00" width="4" height="2" fill="#000"/>
<rect x="1327" y="418.00" width="7" height="2" fill="#000"/>
<rect x="819" y="314.25" width="4" height="2" fill="#000"/>
<rect x="1327" y="314.25" width="7" height="2" fill="#000"/>
<rect x="819" y="210.50" width="4" height="2" fill="#000"/>
<rect x="1327" y="210.50" width="7" height="2" fill="#000"/>
<rect x="819" y="106.75" width="4" height="2" fill="#000"/>
<rect x="1327" y="106.75" width="7" height="2" fill="#000"/>
<rect x="976.00" y="4" width="2" height="5" fill="#000"/>
<rect x="976.00" y="414" width="2" height="5" fill="#000"/>
<rect x="1134.00" y="4" width="2" height="5" fill="#000"/>
<rect x="1134.00" y="414" width="2" height="5" fill="#000"/>
<rect x="1292.00" y="4" width="2" height="5" fill="#000"/>
<rect x="1292.00" y="414" width="2" height="5" fill="#000"/>
<rect x="819" y="4" width="515" height="415" fill="none" stroke="#000" stroke-width="2"/>
<rect x="819" y="833.00" width="4" height="2" fill="#000"/>
<rect x="1327" y="833.00" width="7" height="2" fill="#000"/>
<rect x="819" y="729.25" width="4" height="2" fill="#000"/>
<rect x="1327" y="729.25" width="7" height="2" fill="#000"/>
<rect x="819" y="625.50" width="4" height="2" fill="#000"/>
<rect x="1327" y="625.50" width="7" height="2" fill="#000"/>
<rect x="819" y="521.75" width="4" height="2" fill="#000"/>
<rect x="1327" y="521.75" width="7" height="2" fill="#000"/>
<rect x="976.00" y="419" width="2" height="5" fill="#000"/>
<rect x="976.00" y="829" width="2" height="5" fill="#000"/>
<rect x="1134.00" y="419" width="2" height="5" fill="#000"/>
<rect x="1134.00" y="829" width="2" height="5" fill="#000"/>
<rect x="1292.00" y="419" width="2" height="5" fill="#000"/>
<rect x="1292.00" y="829" width="2" height="5" fill="#000"/>
<rect x="819" y="419" width="515" height="415" fill="none" stroke="#000" stroke-width="2"/>
<rect x="819" y="1248.00" width="4" height="2" fill="#000"/>
<rect x="1327" y="1248.00" width="7" height="2" fill="#000"/>
<rect x="819" y="1144.25" width="4" height="2" fill="#000"/>
<rect x="1327" y="1144.25" width="7" height="2" fill="#000"/>
<rect x="819" y="1040.50" width="4" height="2" fill="#000"/>
<rect x="1327" y="1040.50" width="7" height="2" fill="#000"/>
<rect x="819" y="936.75" width="4" height="2" fill="#000"/>
<rect x="1327" y="936.75" width="7" height="2" fill="#000"/>
<rect x="976.00" y="834" width="2" height="5" fill="#000"/>
<rect x="976.00" y="1244" width="2" height="5" fill="#000"/>
<rect x="1134.00" y="834" width="2" height="5" fill="#000"/>
<rect x="1134.00" y="1244" width="2" height="5" fill="#000"/>
<rect x="1292.00" y="834" width="2" height="5" fill="#000"/>
<rect x="1292.00" y="1244" width="2" height="5" fill="#000"/>
<rect x="819" y="834" width="515" height="415" fill="none" stroke="#000" stroke-width="2"/>
<text x="55.09" y="83.17" font-size="30" stroke="#000" stroke-width="0.45" textLength="30.25" lengthAdjust="spacingAndGlyphs">15</text>
<text x="54.45" y="152.33" font-size="30" stroke="#000" stroke-width="0.45" textLength="30.90" lengthAdjust="spacingAndGlyphs">10</text>
<text x="68.36" y="221.50" font-size="30" stroke="#000" stroke-width="0.45" textLength="17.35" lengthAdjust="spacingAndGlyphs">5</text>
<text x="69.11" y="290.67" font-size="30" stroke="#000" stroke-width="0.45" textLength="16.58" lengthAdjust="spacingAndGlyphs">0</text>
<text x="60.04" y="359.83" font-size="30" stroke="#000" stroke-width="0.45" textLength="25.62" lengthAdjust="spacingAndGlyphs">-5</text>
<text x="55.09" y="498.17" font-size="30" stroke="#000" stroke-width="0.45" textLength="30.25" lengthAdjust="spacingAndGlyphs">15</text>
<text x="54.45" y="567.33" font-size="30" stroke="#000" stroke-width="0.45" textLength="30.90" lengthAdjust="spacingAndGlyphs">10</text>
<text x="68.36" y="636.50" font-size="30" stroke="#000" stroke-width="0.45" textLength="17.35" lengthAdjust="spacingAndGlyphs">5</text>
<text x="69.11" y="705.67" font-size="30" stroke="#000" stroke-width="0.45" textLength="16.58" lengthAdjust="spacingAndGlyphs">0</text>
<text x="60.04" y="774.83" font-size="30" stroke="#000" stroke-width="0.45" textLength="25.62" lengthAdjust="spacingAndGlyphs">-5</text>
<text x="55.09" y="913.17" font-size="30" stroke="#000" stroke-width="0.45" textLength="30.25" lengthAdjust="spacingAndGlyphs">15</text>
<text x="54.45" y="982.33" font-size="30" stroke="#000" stroke-width="0.45" textLength="30.90" lengthAdjust="spacingAndGlyphs">10</text>
<text x="68.36" y="1051.50" font-size="30" stroke="#000" stroke-width="0.45" textLength="17.35" lengthAdjust="spacingAndGlyphs">5</text>
<text x="69.11" y="1120.67" font-size="30" stroke="#000" stroke-width="0.45" textLength="16.58" lengthAdjust="spacingAndGlyphs">0</text>
<text x="60.04" y="1189.83" font-size="30" stroke="#000" stroke-width="0.45" textLength="25.62" lengthAdjust="spacingAndGlyphs">-5</text>
<text x="776.09" y="117.75" font-size="30" stroke="#000" stroke-width="0.45" textLength="30.25" lengthAdjust="spacingAndGlyphs">15</text>
<text x="775.45" y="221.50" font-size="30" stroke="#000" stroke-width="0.45" textLength="30.90" lengthAdjust="spacingAndGlyphs">10</text>
<text x="789.36" y="325.25" font-size="30" stroke="#000" stroke-width="0.45" textLength="17.36" lengthAdjust="spacingAndGlyphs">5</text>
<text x="790.11" y="429.00" font-size="30" stroke="#000" stroke-width="0.45" textLength="16.58" lengthAdjust="spacingAndGlyphs">0</text>
<text x="776.09" y="532.75" font-size="30" stroke="#000" stroke-width="0.45" textLength="30.25" lengthAdjust="spacingAndGlyphs">15</text>
<text x="775.45" y="636.50" font-size="30" stroke="#000" stroke-width="0.45" textLength="30.90" lengthAdjust="spacingAndGlyphs">10</text>
<text x="789.36" y="740.25" font-size="30" stroke="#000" stroke-width="0.45" textLength="17.36" lengthAdjust="spacingAndGlyphs">5</text>
<text x="790.11" y="844.00" font-size="30" stroke="#000" stroke-width="0.45" textLength="16.58" lengthAdjust="spacingAndGlyphs">0</text>
<text x="776.09" y="947.75" font-size="30" stroke="#000" stroke-width="0.45" textLength="30.25" lengthAdjust="spacingAndGlyphs">15</text>
<text x="775.45" y="1051.50" font-size="30" stroke="#000" stroke-width="0.45" textLength="30.90" lengthAdjust="spacingAndGlyphs">10</text>
<text x="789.36" y="1155.25" font-size="30" stroke="#000" stroke-width="0.45" textLength="17.36" lengthAdjust="spacingAndGlyphs">5</text>
<text x="790.11" y="1259.00" font-size="30" stroke="#000" stroke-width="0.45" textLength="16.58" lengthAdjust="spacingAndGlyphs">0</text>
<text x="78.76" y="1287.80" font-size="30" stroke="#000" stroke-width="0.45" textLength="36.33" lengthAdjust="spacingAndGlyphs">D0</text>
<text x="228.67" y="1287.80" font-size="30" stroke="#000" stroke-width="0.45" textLength="53.14" lengthAdjust="spacingAndGlyphs">D20</text>
<text x="386.67" y="1287.80" font-size="30" stroke="#000" stroke-width="0.45" textLength="53.14" lengthAdjust="spacingAndGlyphs">D40</text>
<text x="544.67" y="1287.80" font-size="30" stroke="#000" stroke-width="0.45" textLength="53.14" lengthAdjust="spacingAndGlyphs">D60</text>
<text x="799.76" y="1287.80" font-size="30" stroke="#000" stroke-width="0.45" textLength="36.33" lengthAdjust="spacingAndGlyphs">D0</text>
<text x="949.67" y="1287.80" font-size="30" stroke="#000" stroke-width="0.45" textLength="53.14" lengthAdjust="spacingAndGlyphs">D20</text>
<text x="1107.67" y="1287.80" font-size="30" stroke="#000" stroke-width="0.45" textLength="53.14" lengthAdjust="spacingAndGlyphs">D40</text>
<text x="1265.67" y="1287.80" font-size="30" stroke="#000" stroke-width="0.45" textLength="53.14" lengthAdjust="spacingAndGlyphs">D60</text>
<text x="208.99" y="1326.00" font-size="30" stroke="#000" stroke-width="0.45" textLength="50.85" lengthAdjust="spacingAndGlyphs">Day</text>
<text x="266.72" y="1326.00" font-size="30" stroke="#000" stroke-width="0.45" textLength="22.03" lengthAdjust="spacingAndGlyphs">of</text>
<text x="298.90" y="1326.00" font-size="30" stroke="#000" stroke-width="0.45" textLength="37.75" lengthAdjust="spacingAndGlyphs">the</text>
<text x="346.63" y="1326.00" font-size="30" stroke="#000" stroke-width="0.45" textLength="135.24" lengthAdjust="spacingAndGlyphs">preseason</text>
<text x="929.39" y="1326.60" font-size="30" stroke="#000" stroke-width="0.45" textLength="50.85" lengthAdjust="spacingAndGlyphs">Day</text>
<text x="987.12" y="1326.60" font-size="30" stroke="#000" stroke-width="0.45" textLength="22.03" lengthAdjust="spacingAndGlyphs">of</text>
<text x="1019.30" y="1326.60" font-size="30" stroke="#000" stroke-width="0.45" textLength="37.75" lengthAdjust="spacingAndGlyphs">the</text>
<text x="1067.03" y="1326.60" font-size="30" stroke="#000" stroke-width="0.45" textLength="135.24" lengthAdjust="spacingAndGlyphs">preseason</text>
<text x="372.13" y="57.70" font-size="30" stroke="#000" stroke-width="0.45" textLength="71.76" lengthAdjust="spacingAndGlyphs">MAT:</text>
<text x="450.53" y="57.70" font-size="30" stroke="#000" stroke-width="0.45" textLength="48.82" lengthAdjust="spacingAndGlyphs">6°C</text>
<text x="507.89" y="57.70" font-size="30" stroke="#000" stroke-width="0.45" textLength="10.13" lengthAdjust="spacingAndGlyphs">-</text>
<text x="525.84" y="57.70" font-size="30" stroke="#000" stroke-width="0.45" textLength="48.51" lengthAdjust="spacingAndGlyphs">8°C</text>
<text x="372.44" y="472.40" font-size="30" stroke="#000" stroke-width="0.45" textLength="71.44" lengthAdjust="spacingAndGlyphs">MAT:</text>
<text x="450.33" y="472.40" font-size="30" stroke="#000" stroke-width="0.45" textLength="49.02" lengthAdjust="spacingAndGlyphs">8°C</text>
<text x="507.74" y="472.40" font-size="30" stroke="#000" stroke-width="0.45" textLength="9.62" lengthAdjust="spacingAndGlyphs">-</text>
<text x="526.16" y="472.40" font-size="30" stroke="#000" stroke-width="0.45" textLength="65.15" lengthAdjust="spacingAndGlyphs">10°C</text>
<text x="372.35" y="888.40" font-size="30" stroke="#000" stroke-width="0.45" textLength="70.91" lengthAdjust="spacingAndGlyphs">MAT:</text>
<text x="451.60" y="888.40" font-size="30" stroke="#000" stroke-width="0.45" textLength="63.68" lengthAdjust="spacingAndGlyphs">10°C</text>
<text x="523.94" y="888.40" font-size="30" stroke="#000" stroke-width="0.45" textLength="9.63" lengthAdjust="spacingAndGlyphs">-</text>
<text x="542.17" y="888.40" font-size="30" stroke="#000" stroke-width="0.45" textLength="64.73" lengthAdjust="spacingAndGlyphs">12°C</text>
<text x="1092.35" y="59.90" font-size="30" stroke="#000" stroke-width="0.45" textLength="70.91" lengthAdjust="spacingAndGlyphs">MAT:</text>
<text x="1170.64" y="59.90" font-size="30" stroke="#000" stroke-width="0.45" textLength="48.51" lengthAdjust="spacingAndGlyphs">6°C</text>
<text x="1228.43" y="59.90" font-size="30" stroke="#000" stroke-width="0.45" textLength="9.75" lengthAdjust="spacingAndGlyphs">-</text>
<text x="1245.84" y="59.90" font-size="30" stroke="#000" stroke-width="0.45" textLength="48.51" lengthAdjust="spacingAndGlyphs">8°C</text>
<text x="1092.35" y="474.90" font-size="30" stroke="#000" stroke-width="0.45" textLength="70.91" lengthAdjust="spacingAndGlyphs">MAT:</text>
<text x="1170.64" y="474.90" font-size="30" stroke="#000" stroke-width="0.45" textLength="48.51" lengthAdjust="spacingAndGlyphs">8°C</text>
<text x="1228.43" y="474.90" font-size="30" stroke="#000" stroke-width="0.45" textLength="9.75" lengthAdjust="spacingAndGlyphs">-</text>
<text x="1245.87" y="474.90" font-size="30" stroke="#000" stroke-width="0.45" textLength="64.62" lengthAdjust="spacingAndGlyphs">10°C</text>
<text x="1092.35" y="890.90" font-size="30" stroke="#000" stroke-width="0.45" textLength="70.91" lengthAdjust="spacingAndGlyphs">MAT:</text>
<text x="1170.67" y="890.90" font-size="30" stroke="#000" stroke-width="0.45" textLength="64.62" lengthAdjust="spacingAndGlyphs">10°C</text>
<text x="1243.94" y="890.90" font-size="30" stroke="#000" stroke-width="0.45" textLength="9.62" lengthAdjust="spacingAndGlyphs">-</text>
<text x="1262.17" y="890.90" font-size="30" stroke="#000" stroke-width="0.45" textLength="64.73" lengthAdjust="spacingAndGlyphs">12°C</text>
<text x="104.80" y="44.00" font-size="33" font-weight="bold" stroke="#000" stroke-width="0.9" textLength="15.65" lengthAdjust="spacingAndGlyphs">a</text>
<text x="105.11" y="459.50" font-size="33" font-weight="bold" stroke="#000" stroke-width="0.9" textLength="17.94" lengthAdjust="spacingAndGlyphs">b</text>
<text x="103.95" y="875.00" font-size="33" font-weight="bold" stroke="#000" stroke-width="0.9" textLength="17.39" lengthAdjust="spacingAndGlyphs">c</text>
<text x="824.95" y="43.80" font-size="33" font-weight="bold" stroke="#000" stroke-width="0.9" textLength="19.16" lengthAdjust="spacingAndGlyphs">d</text>
<text x="825.00" y="459.50" font-size="33" font-weight="bold" stroke="#000" stroke-width="0.9" textLength="18.36" lengthAdjust="spacingAndGlyphs">e</text>
<text x="826.00" y="875.00" font-size="33" font-weight="bold" stroke="#000" stroke-width="0.9" textLength="11.00" lengthAdjust="spacingAndGlyphs">f</text>
<text x="442.40" y="1166.70" font-size="30" stroke="#000" stroke-width="0.45" textLength="136.45" lengthAdjust="spacingAndGlyphs">1980-1994</text>
<text x="442.40" y="1211.00" font-size="30" stroke="#000" stroke-width="0.45" textLength="136.55" lengthAdjust="spacingAndGlyphs">1999-2013</text>
<text transform="translate(24.00,810.55) rotate(-90)" x="0" y="0" font-size="30" stroke="#000" stroke-width="0.45" textLength="360.35" lengthAdjust="spacingAndGlyphs">Mean daily temperature(°C)</text>
<text transform="translate(745.00,844.53) rotate(-90)" x="0" y="0" font-size="30" stroke="#000" stroke-width="0.45" textLength="425.38" lengthAdjust="spacingAndGlyphs">Diurnal temperature variation(°C)</text>
<rect x="305" y="1156" width="124" height="4" fill="#ff0000"/>
<rect x="305" y="1200" width="124" height="4" fill="#000"/>
</svg>
</body></html>
